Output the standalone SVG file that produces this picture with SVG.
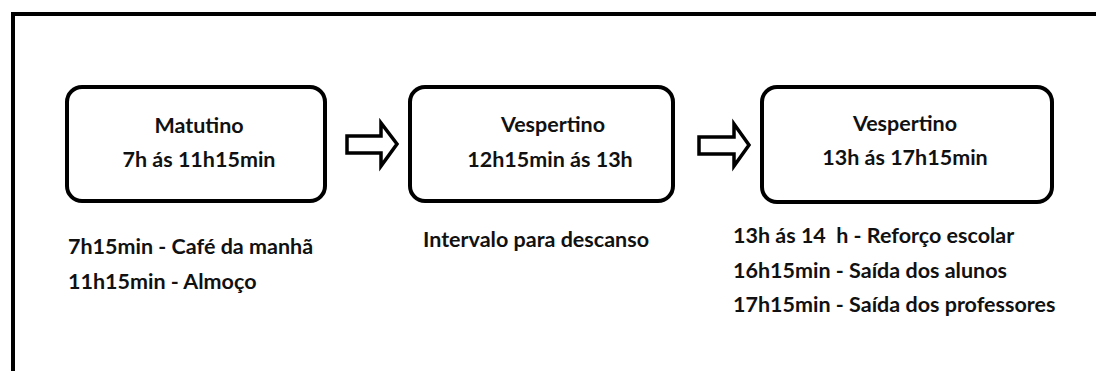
<svg xmlns="http://www.w3.org/2000/svg" width="1096" height="371" viewBox="0 0 1096 371">
<style>
.frame{fill:none;stroke:#000;stroke-width:4}
.box{fill:#fff;stroke:#000;stroke-width:4}
.arrow{fill:#fff;stroke:#000;stroke-width:3.5;stroke-linejoin:miter}
.t{font-family:Lato,"Open Sans","Liberation Sans",sans-serif;font-weight:bold;fill:#111;font-size:21.5px;white-space:pre}
.c{text-anchor:middle}
</style>
<rect width="1096" height="371" fill="#fff"/>
<path class="frame" d="M13,380 V14 H1100"/>
<g id="connectors">
<path class="arrow" d="M347,136 H381 V123 L397,144 L381,166 V153 H347 Z"/>
<path class="arrow" d="M699,137 H734 V124 L749,145 L734,166 V154 H699 Z"/>
</g>
<g id="node-matutino">
<rect class="box" x="67" y="87" width="258" height="114" rx="15"/>
<text class="t c" x="199" y="133">Matutino</text>
<text class="t c" x="199" y="167">7h ás 11h15min</text>
</g>
<g id="node-vespertino1">
<rect class="box" x="410" y="87" width="263" height="114" rx="15"/>
<text class="t c" x="553" y="132">Vespertino</text>
<text class="t c" x="550" y="167">12h15min ás 13h</text>
</g>
<g id="node-vespertino2">
<rect class="box" x="762" y="87" width="290" height="115" rx="15"/>
<text class="t c" x="905" y="131">Vespertino</text>
<text class="t c" x="905" y="165">13h ás 17h15min</text>
</g>
<g id="notes-matutino">
<text class="t" x="68" y="254">7h15min - Café da manhã</text>
<text class="t" x="68" y="289">11h15min - Almoço</text>
</g>
<g id="notes-vespertino1">
<text class="t" x="423" y="247">Intervalo para descanso</text>
</g>
<g id="notes-vespertino2">
<text class="t" x="733" y="243" xml:space="preserve">13h ás 14  h - Reforço escolar</text>
<text class="t" x="733" y="278">16h15min - Saída dos alunos</text>
<text class="t" x="733" y="312">17h15min - Saída dos professores</text>
</g>
</svg>
